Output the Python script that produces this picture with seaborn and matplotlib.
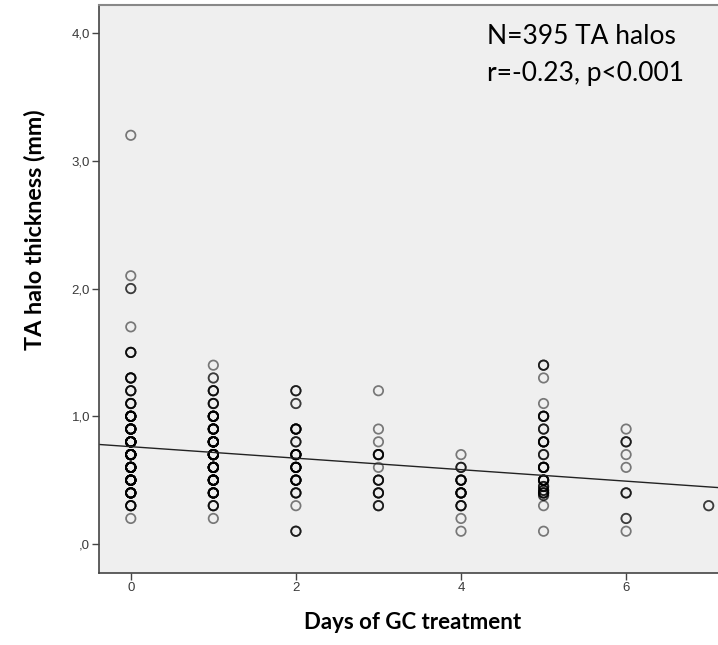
import numpy as np
import pandas as pd
import matplotlib
matplotlib.use("Agg")
import matplotlib.pyplot as plt
import seaborn as sns

# ---- data (day, thickness value, estimated number of overlapping halos)
day = [0]*17 + [1]*13 + [2]*10 + [3]*8 + [4]*7 + [5]*15 + [6]*7 + [7]
thickness = [
    3.2, 2.1, 2.0, 1.7, 1.5, 1.3, 1.2, 1.1, 1.0, 0.9, 0.8, 0.7, 0.6, 0.5, 0.4, 0.3, 0.2,
    1.4, 1.3, 1.2, 1.1, 1.0, 0.9, 0.8, 0.7, 0.6, 0.5, 0.4, 0.3, 0.2,
    1.2, 1.1, 0.9, 0.8, 0.7, 0.6, 0.5, 0.4, 0.3, 0.1,
    1.2, 0.9, 0.8, 0.7, 0.6, 0.5, 0.4, 0.3,
    0.7, 0.6, 0.5, 0.4, 0.3, 0.2, 0.1,
    1.4, 1.3, 1.1, 1.0, 0.9, 0.8, 0.7, 0.6, 0.5, 0.45, 0.42, 0.4, 0.38, 0.3, 0.1,
    0.9, 0.8, 0.7, 0.6, 0.4, 0.2, 0.1,
    0.3,
]
count = [
    1, 1, 2, 1, 4, 5, 4, 5, 12, 12, 18, 18, 18, 18, 12, 5, 1,
    1, 2, 4, 4, 10, 10, 16, 16, 14, 14, 10, 4, 1,
    3, 2, 6, 3, 8, 8, 7, 4, 1, 3,
    1, 1, 1, 5, 1, 4, 4, 3,
    1, 3, 6, 7, 4, 1, 1,
    3, 1, 1, 5, 3, 6, 3, 7, 7, 3, 3, 4, 2, 1, 1,
    1, 3, 1, 1, 3, 2, 1,
    2,
]
fit_intercept = 0.762
fit_slope = -0.045
x_ticks = [0, 2, 4, 6]
y_ticks = [0.0, 1.0, 2.0, 3.0, 4.0]
y_tick_labels = [",0", "1,0", "2,0", "3,0", "4,0"]
annotation = "N=395 TA halos\nr=-0.23, p<0.001"
x_label = "Days of GC treatment"
y_label = "TA halo thickness (mm)"

df = pd.DataFrame({
    "day": np.repeat(day, count),
    "thickness": np.repeat(thickness, count),
})

sns.set_theme(style="white")
plt.rcParams["font.family"] = ["Liberation Sans", "DejaVu Sans"]

fig = plt.figure(figsize=(7.18, 6.45), dpi=100)
ax = fig.add_axes([99/718, 1 - 573/645, 1 - 99/718 + 0.01, (573 - 5)/645])
ax.set_facecolor("#efefef")

sns.scatterplot(data=df, x="day", y="thickness", ax=ax, marker="o",
                facecolor="none", edgecolor="black", linewidth=1.25,
                s=46, alpha=0.5, legend=False)

ax.axline((0, fit_intercept), slope=fit_slope, color="#222222", lw=1.0)

ax.set_xlim(-0.385, 7.2)
ax.set_ylim(-0.227, 4.22)
ax.set_xticks(x_ticks)
ax.set_xticklabels([str(t) for t in x_ticks])
ax.set_yticks(y_ticks)
ax.set_yticklabels(y_tick_labels)
ax.tick_params(axis="both", direction="out", length=5, width=1, color="#444444",
               labelsize=9.5, labelcolor="#3a3a3a", bottom=True, left=True, pad=1.5)

for side in ["left", "bottom"]:
    ax.spines[side].set_color("#444444")
    ax.spines[side].set_linewidth(1.2)
ax.spines["top"].set_color("#888888")
ax.spines["top"].set_linewidth(1.5)
ax.spines["right"].set_visible(False)

ax.set_xlabel(x_label, family=["Lato", "DejaVu Sans"], fontweight="bold",
              fontsize=16, color="black", labelpad=13)
ax.set_ylabel(y_label, family=["Lato", "DejaVu Sans"], fontweight="bold",
              fontsize=16.8, color="black")
ax.yaxis.set_label_coords((46 - 99)/619, (573 - 230)/568)

ax.text((483 - 99)/619, 1 - (24 - 5)/568, annotation, transform=ax.transAxes,
        family=["Lato", "DejaVu Sans"], fontsize=19, color="black",
        va="top", ha="left", linespacing=1.6)

fig.savefig("out.png", dpi=100)
